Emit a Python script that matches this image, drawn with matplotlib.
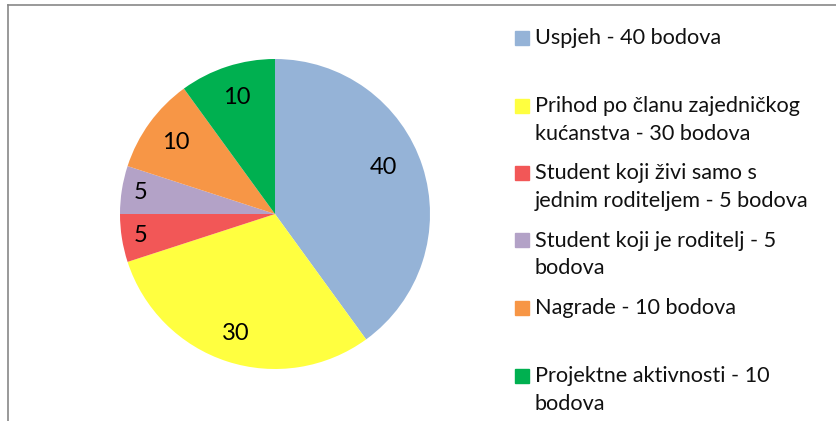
import numpy as np
import matplotlib.pyplot as plt
from matplotlib.lines import Line2D
from matplotlib.patches import Rectangle

# podaci
bodovi = [40, 30, 5, 5, 10, 10]
legenda = [
    'Uspjeh - 40 bodova',
    'Prihod po članu zajedničkog\nkućanstva - 30 bodova',
    'Student koji živi samo s\njednim roditeljem - 5 bodova',
    'Student koji je roditelj - 5\nbodova',
    'Nagrade - 10 bodova',
    'Projektne aktivnosti - 10\nbodova',
]
boje = ['#95B3D7', '#FFFF40', '#F25757', '#B3A2C7', '#F79646', '#00B050']
udaljenost_oznaka = [0.76, 0.81, 0.88, 0.88, 0.79, 0.79]

plt.rcParams['font.family'] = ['Lato', 'DejaVu Sans']

W, H = 836, 421
fig = plt.figure(figsize=(W / 100, H / 100), dpi=100)

# okvir (samo gornja i lijeva crta su vidljive)
fig.add_artist(Line2D([7.5 / W, 1], [1 - 4.5 / H, 1 - 4.5 / H], color='#878787', lw=1.2))
fig.add_artist(Line2D([7.5 / W, 7.5 / W], [0, 1 - 4.5 / H], color='#878787', lw=1.2))

# pita
cx, cy, r = 275, 214, 155
ax = fig.add_axes([(cx - r) / W, (H - cy - r) / H, 2 * r / W, 2 * r / H])
wedges, _ = ax.pie(bodovi, colors=boje, startangle=90, counterclock=False,
                   radius=1, wedgeprops={'linewidth': 0})
ax.set_xlim(-1, 1)
ax.set_ylim(-1, 1)
ax.axis('off')

for i, (w, val, d) in enumerate(zip(wedges, bodovi, udaljenost_oznaka)):
    kut = (w.theta1 + w.theta2) / 2
    if i == 0:
        kut += 5  # Excel malo pomakne oznaku velikog isječka
    kut = np.deg2rad(kut)
    ax.text(d * np.cos(kut), d * np.sin(kut), str(val), ha='center', va='center',
            fontsize=17, color='black')

# legenda
y0, korak = 38, 67.5
for i, (tekst, boja) in enumerate(zip(legenda, boje)):
    y = y0 + i * korak
    fig.add_artist(Rectangle((515 / W, 1 - (y + 7) / H), 14 / W, 14 / H,
                             color=boja, transform=fig.transFigure))
    fig.text(535 / W, 1 - (y - 10) / H, tekst, ha='left', va='top',
             fontsize=15.6, color='#111111', linespacing=1.5)

fig.savefig('out.png', dpi=100)
